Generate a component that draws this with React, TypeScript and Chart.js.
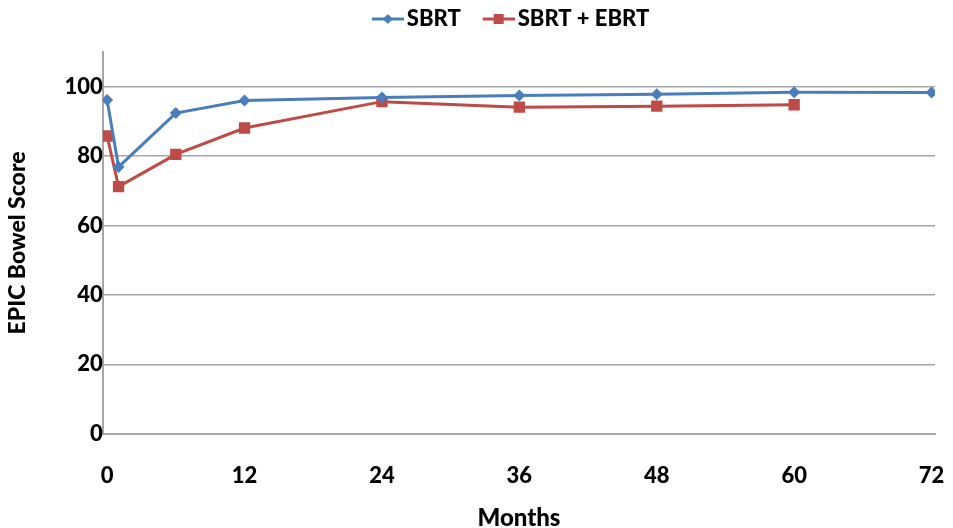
import React, { useEffect, useRef } from "react";
import { Chart, registerables } from "chart.js";

Chart.register(...registerables);

const months = [0, 1, 6, 12, 24, 36, 48, 60, 72];
const sbrtValues = [96.2, 76.9, 92.4, 96.0, 96.9, 97.5, 97.8, 98.4, 98.3];
const ebrtMonths = [0, 1, 6, 12, 24, 36, 48, 60];
const ebrtValues = [85.8, 71.2, 80.5, 88.1, 95.7, 94.1, 94.4, 94.8];
const xTicks = [0, 12, 24, 36, 48, 60, 72];
const yTicks = [0, 20, 40, 60, 80, 100];
const seriesNames = ["SBRT", "SBRT + EBRT"];

const BLUE = "#4A7EBB";
const RED = "#BE4B48";
const FONT = "Lato, 'Open Sans', sans-serif";
const WEIGHT = "900";

function legendIcon(color: string, marker: "diamond" | "square") {
  const c = document.createElement("canvas");
  c.width = 52;
  c.height = 14;
  const ctx = c.getContext("2d")!;
  ctx.strokeStyle = color;
  ctx.lineWidth = 3;
  ctx.beginPath();
  ctx.moveTo(20, 7);
  ctx.lineTo(52, 7);
  ctx.stroke();
  ctx.fillStyle = color;
  if (marker === "diamond") {
    ctx.beginPath();
    ctx.moveTo(36, 2);
    ctx.lineTo(41, 7);
    ctx.lineTo(36, 12);
    ctx.lineTo(31, 7);
    ctx.closePath();
    ctx.fill();
  } else {
    ctx.fillRect(31, 2, 10, 10);
  }
  return c;
}

const legendShift = {
  id: "legendShift",
  afterLayout(chart: any) {
    const lg = chart.legend;
    if (lg) {
      lg.left += 35;
      lg.right += 35;
      lg.top -= 12;
      lg.bottom -= 12;
    }
  },
};

export default function App() {
  const ref = useRef<HTMLCanvasElement | null>(null);
  useEffect(() => {
    document.body.style.margin = "0";
    const icons = [legendIcon(BLUE, "diamond"), legendIcon(RED, "square")];
    const chart = new Chart(ref.current!, {
      type: "scatter",
      data: {
        datasets: [
          {
            label: seriesNames[0],
            data: months.map((m, i) => ({ x: m, y: sbrtValues[i] })),
            showLine: true,
            borderColor: BLUE,
            backgroundColor: BLUE,
            borderWidth: 3,
            pointStyle: "rectRot",
            pointRadius: 6,
            pointHoverRadius: 6,
            pointBorderWidth: 0,
          },
          {
            label: seriesNames[1],
            data: ebrtMonths.map((m, i) => ({ x: m, y: ebrtValues[i] })),
            showLine: true,
            borderColor: RED,
            backgroundColor: RED,
            borderWidth: 3,
            pointStyle: "rect",
            pointRadius: 8,
            pointHoverRadius: 8,
            pointBorderWidth: 0,
          },
        ],
      },
      options: {
        animation: false,
        responsive: false,
        layout: { padding: { left: 4, right: 18, top: 0, bottom: -5 } },
        plugins: {
          tooltip: { enabled: false },
          legend: {
            position: "top",
            labels: {
              usePointStyle: true,
              pointStyleWidth: 36,
              padding: 10,
              color: "#000",
              font: { family: FONT, size: 22, weight: WEIGHT },
              generateLabels: (ch: any) =>
                ch.data.datasets.map((d: any, i: number) => ({
                  text: d.label,
                  pointStyle: icons[i],
                  fillStyle: d.backgroundColor,
                  strokeStyle: d.borderColor,
                  lineWidth: 0,
                  datasetIndex: i,
                  hidden: false,
                  fontColor: "#000",
                })),
            },
          },
        },
        scales: {
          x: {
            type: "linear",
            min: -0.37,
            max: 72.3,
            afterBuildTicks: (axis: any) => {
              axis.ticks = xTicks.map((v) => ({ value: v }));
            },
            afterFit: (axis: any) => {
              axis.paddingLeft = 0;
              axis.paddingRight = 0;
            },
            grid: { display: false, drawTicks: false },
            border: { color: "#A6A6A6", width: 2 },
            ticks: {
              color: "#000",
              padding: 29,
              maxRotation: 0,
              font: { family: FONT, size: 22, weight: WEIGHT },
            },
            title: {
              display: true,
              text: "Months",
              color: "#000",
              padding: { top: -14, bottom: 0 },
              font: { family: FONT, size: 24, weight: WEIGHT },
            },
          },
          y: {
            type: "linear",
            min: 0,
            max: 110,
            afterBuildTicks: (axis: any) => {
              axis.ticks = yTicks.map((v) => ({ value: v }));
            },
            afterFit: (axis: any) => {
              axis.paddingTop = 52;
            },
            grid: { color: "#A6A6A6", lineWidth: 1.5, drawTicks: false },
            border: { color: "#A6A6A6", width: 2 },
            ticks: {
              color: "#000",
              padding: 0,
              font: { family: FONT, size: 22, weight: WEIGHT },
            },
            title: {
              display: true,
              text: "EPIC Bowel Score",
              color: "#000",
              padding: { top: 0, bottom: 33 },
              font: { family: FONT, size: 23, weight: WEIGHT },
            },
          },
        },
      },
      plugins: [legendShift],
    } as any);
    return () => chart.destroy();
  }, []);
  return (
    <div style={{ width: 953, height: 528 }}>
      <canvas ref={ref} width={953} height={528} style={{ display: "block" }} />
    </div>
  );
}
